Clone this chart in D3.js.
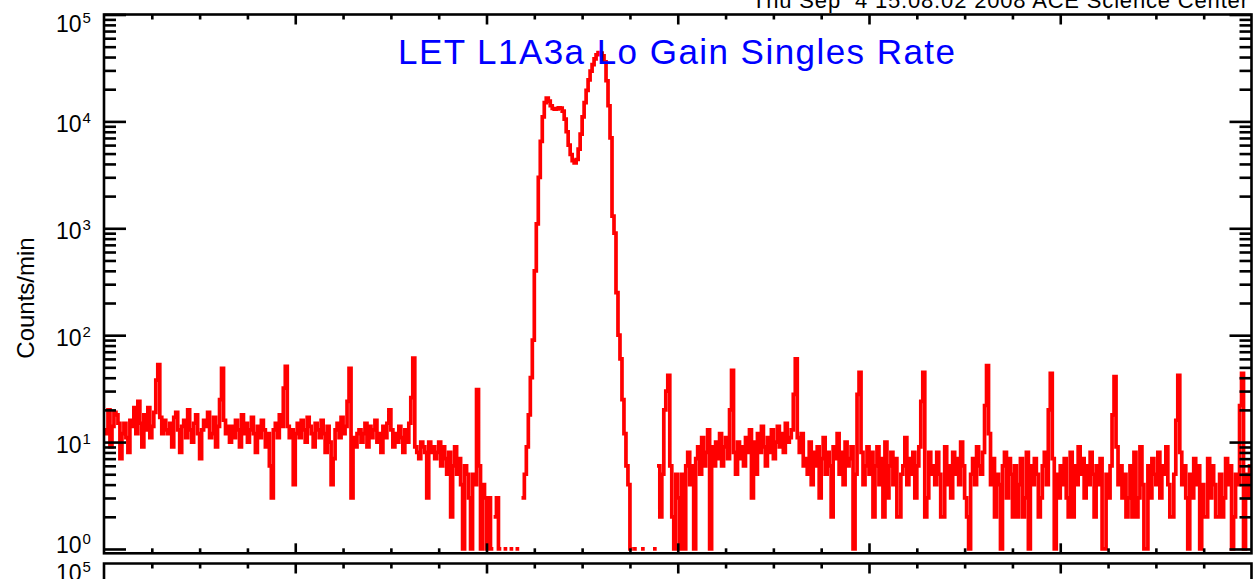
<!DOCTYPE html>
<html>
<head>
<meta charset="utf-8">
<script src="https://cdn.jsdelivr.net/npm/d3@7"></script>
<style>
  html, body { margin: 0; padding: 0; background: #fff; }
  svg { display: block; }
  text { font-family: "Liberation Sans", Arial, sans-serif; }
</style>
</head>
<body>
<svg id="chart" width="1254" height="579"></svg>
<script>
// ---------------- DATA ----------------
const titleText = "LET L1A3a Lo Gain Singles Rate";
const yLabelText = "Counts/min";
const stampText = "Thu Sep  4 15:08:02 2008 ACE Science Center";

// time axis in hours, 15-minute bins
const binHours = 0.25;
const xDomainHours = [0, 144];
const xMajorTicks = [0, 24, 48, 72, 96, 120, 144];
const xMinorStep = 6;

// y axis decades (labels are 10^exponent)
const yMajorExponents = [0, 1, 2, 3, 4, 5];
const yMinorMultipliers = [2, 3, 4, 5, 6, 7, 8, 9];

// counts per minute, one value per 15-minute bin (0 = no counts, not drawn)
const countsPerMin = [
  13,12,20,9,14,19,18,15,7,12,15,11,8,16,14,21,12,24,15,9,18,13,21,11,14,19,38,53,17,12,16,13,
  12,15,9,17,19,13,8,14,16,11,20,13,10,15,18,12,7,13,16,14,19,11,12,17,9,14,25,49,16,12,14,10,
  14,11,16,13,9,18,12,15,10,13,17,12,8,14,11,16,13,9,12,6,3,13,15,11,18,14,32,51,14,11,13,4,
  12,15,11,16,13,10,17,14,12,9,15,13,11,16,12,8,14,10,4,7,13,15,11,17,12,14,24,49,3,11,9,12,
  13,10,12,15,9,14,11,13,16,10,12,8,14,11,15,20,13,9,12,10,14,11,8,13,10,15,26,61,9,8,7,10,
  9,8,3,10,8,9,7,8,10,6,9,7,5,8,2,6,9,5,7,4,1,6,5,3,1,5,4,31,6,1,4,3,
  1,3,1,0,2,3,1,0,0,1,0,0,1,0,0,1,0,0,3,5,9,18,40,90,400,1100,3000,6500,11000,15000,16500,15500,
  14000,13200,13000,13100,13400,13300,12500,10500,8000,6000,4900,4300,4100,4400,5500,7600,11000,15000,19500,24500,29500,34000,38500,42000,44000,43500,41000,36000,24000,14000,7000,1300,
  900,250,100,60,25,12,6,4,1,0,1,0,0,0,1,0,0,0,0,0,1,0,6,2,5,20,30,42,6,2,1,5,
  3,1,5,1,6,8,4,6,1,7,9,5,11,6,8,13,1,9,6,10,7,12,6,9,11,7,20,47,8,5,10,7,
  9,6,11,8,13,3,10,5,12,8,14,9,6,11,8,13,7,10,14,9,12,8,15,10,11,13,28,60,11,8,12,6,
  7,5,10,4,8,6,9,3,7,11,5,8,6,2,9,7,12,5,8,4,10,6,7,9,1,5,28,45,8,4,6,9,
  5,8,2,6,9,4,7,2,10,3,6,8,4,7,2,2,5,6,11,4,7,5,8,3,6,9,24,45,2,3,8,5,
  6,4,8,5,2,2,9,4,6,3,8,5,7,4,10,6,3,2,1,5,7,4,9,6,5,8,22,52,12,4,7,2,
  5,4,1,6,8,3,7,5,2,6,2,4,7,2,3,8,1,6,4,7,5,2,3,6,8,4,20,44,7,1,5,3,
  6,4,7,3,2,8,2,6,4,9,5,7,3,6,4,8,5,2,6,4,7,1,1,5,3,6,18,41,9,4,6,3,
  5,2,3,6,2,8,2,3,9,4,1,1,6,3,7,5,4,8,3,6,5,9,4,2,2,5,16,42,8,4,6,3,
  1,5,3,7,4,6,1,4,2,2,7,3,6,4,2,2,5,2,3,7,4,6,1,2,5,4,22,44,1,5,3,6
];

// ---------------- LAYOUT ----------------
const svg = d3.select("#chart");
const L = 104, R = 1251.5, T = 14.5, B = 553.3;
const T2 = 563.5;           // top of second (cut-off) panel
const axisW = 2.6;

const x = d3.scaleLinear().domain(xDomainHours).range([L, R]);
const y = d3.scaleLog().domain([0.911, 1e5]).range([B, T]);
const y2 = d3.scaleLog().domain([0.911, 1e5]).range([T2 + (B - T), T2]);

const xMinor = d3.range(xDomainHours[0], xDomainHours[1] + 1, xMinorStep)
  .filter(h => !xMajorTicks.includes(h));
const yMajor = yMajorExponents.map(e => Math.pow(10, e));
const yMinor = [];
yMajorExponents.slice(0, -1).forEach(e => yMinorMultipliers.forEach(m => yMinor.push(m * Math.pow(10, e))));

function styleAxis(g) {
  g.select(".domain").remove();
  g.selectAll(".tick line").attr("stroke", "#000").attr("stroke-width", axisW);
  g.selectAll(".tick text").remove();
}

// ---------------- DATA LINE ----------------
const pts = countsPerMin.map((v, i) => ({ t: i * binHours + binHours / 2, v }));
const line = d3.line()
  .defined(d => d.v > 0)
  .x(d => x(d.t))
  .y(d => y(d.v))
  .curve(d3.curveStep);

svg.append("defs").append("clipPath").attr("id", "clip")
  .append("rect").attr("x", L).attr("y", T).attr("width", R - L).attr("height", B - T);

svg.append("path")
  .datum(pts)
  .attr("clip-path", "url(#clip)")
  .attr("d", line)
  .attr("fill", "none")
  .attr("stroke", "#ff0000")
  .attr("stroke-width", 3.7)
  .attr("stroke-linecap", "square")
  .attr("stroke-linejoin", "miter");

// ---------------- AXES ----------------
function xTicks(yPos, dir) {
  const mk = () => dir > 0 ? d3.axisBottom(x) : d3.axisTop(x);
  svg.append("g").attr("transform", `translate(0,${yPos})`)
    .call(mk().tickValues(xMinor).tickSize(5).tickSizeOuter(0)).call(styleAxis);
  svg.append("g").attr("transform", `translate(0,${yPos})`)
    .call(mk().tickValues(xMajorTicks.slice(1, -1)).tickSize(10).tickSizeOuter(0)).call(styleAxis);
}
function yTicks(scale, xPos, dir, clip) {
  const mk = () => dir > 0 ? d3.axisRight(scale) : d3.axisLeft(scale);
  const g1 = svg.append("g").attr("transform", `translate(${xPos},0)`)
    .call(mk().tickValues(yMinor).tickSize(12).tickSizeOuter(0)).call(styleAxis);
  const g2 = svg.append("g").attr("transform", `translate(${xPos},0)`)
    .call(mk().tickValues(yMajor).tickSize(22).tickSizeOuter(0)).call(styleAxis);
  if (clip) { g1.attr("clip-path", clip); g2.attr("clip-path", clip); }
}

xTicks(T, 1);
xTicks(B, -1);
yTicks(y, L, 1);
yTicks(y, R, -1);

svg.append("rect")
  .attr("x", L).attr("y", T).attr("width", R - L).attr("height", B - T)
  .attr("fill", "none").attr("stroke", "#000").attr("stroke-width", axisW);

// y tick labels 10^n (vertical offset of the label from its tick, as in the reference)
const labelOffset = e => (e === 5 ? 17 : e === 0 ? 4 : 11);
function yLabels(scale, exps) {
  exps.forEach(e => {
    const t = svg.append("text")
      .attr("x", 56).attr("y", scale(Math.pow(10, e)) + labelOffset(e))
      .attr("font-size", 23).attr("fill", "#000");
    t.append("tspan").text("10");
    t.append("tspan").attr("dy", -9).attr("dx", 1).attr("font-size", 15).text(String(e));
  });
}
yLabels(y, yMajorExponents);

// ---------------- PANEL 2 (cut off at bottom) ----------------
const clip2 = svg.append("defs").append("clipPath").attr("id", "clip2");
clip2.append("rect").attr("x", L).attr("y", T2).attr("width", R - L).attr("height", 100);
xTicks(T2, 1);
yTicks(y2, L, 1, "url(#clip2)");
yTicks(y2, R, -1, "url(#clip2)");
svg.append("path")
  .attr("d", `M${L},${T2 + 40}V${T2}H${R}V${T2 + 40}`)
  .attr("fill", "none").attr("stroke", "#000").attr("stroke-width", axisW);
yLabels(y2, [5]);

// ---------------- TEXTS ----------------
svg.append("text")
  .attr("x", (398 + 955) / 2).attr("y", 64)
  .attr("text-anchor", "middle")
  .attr("font-size", 35)
  .attr("fill", "#0000ff")
  .attr("textLength", 557).attr("lengthAdjust", "spacing")
  .text(titleText);

svg.append("text")
  .attr("transform", `translate(34,298) rotate(-90)`)
  .attr("text-anchor", "middle")
  .attr("font-size", 24)
  .attr("fill", "#000")
  .text(yLabelText);

svg.append("text")
  .attr("x", 1248).attr("y", 8)
  .attr("text-anchor", "end")
  .attr("font-size", 22)
  .attr("fill", "#000")
  .style("white-space", "pre")
  .attr("textLength", 496).attr("lengthAdjust", "spacing")
  .text(stampText);
</script>
</body>
</html>
